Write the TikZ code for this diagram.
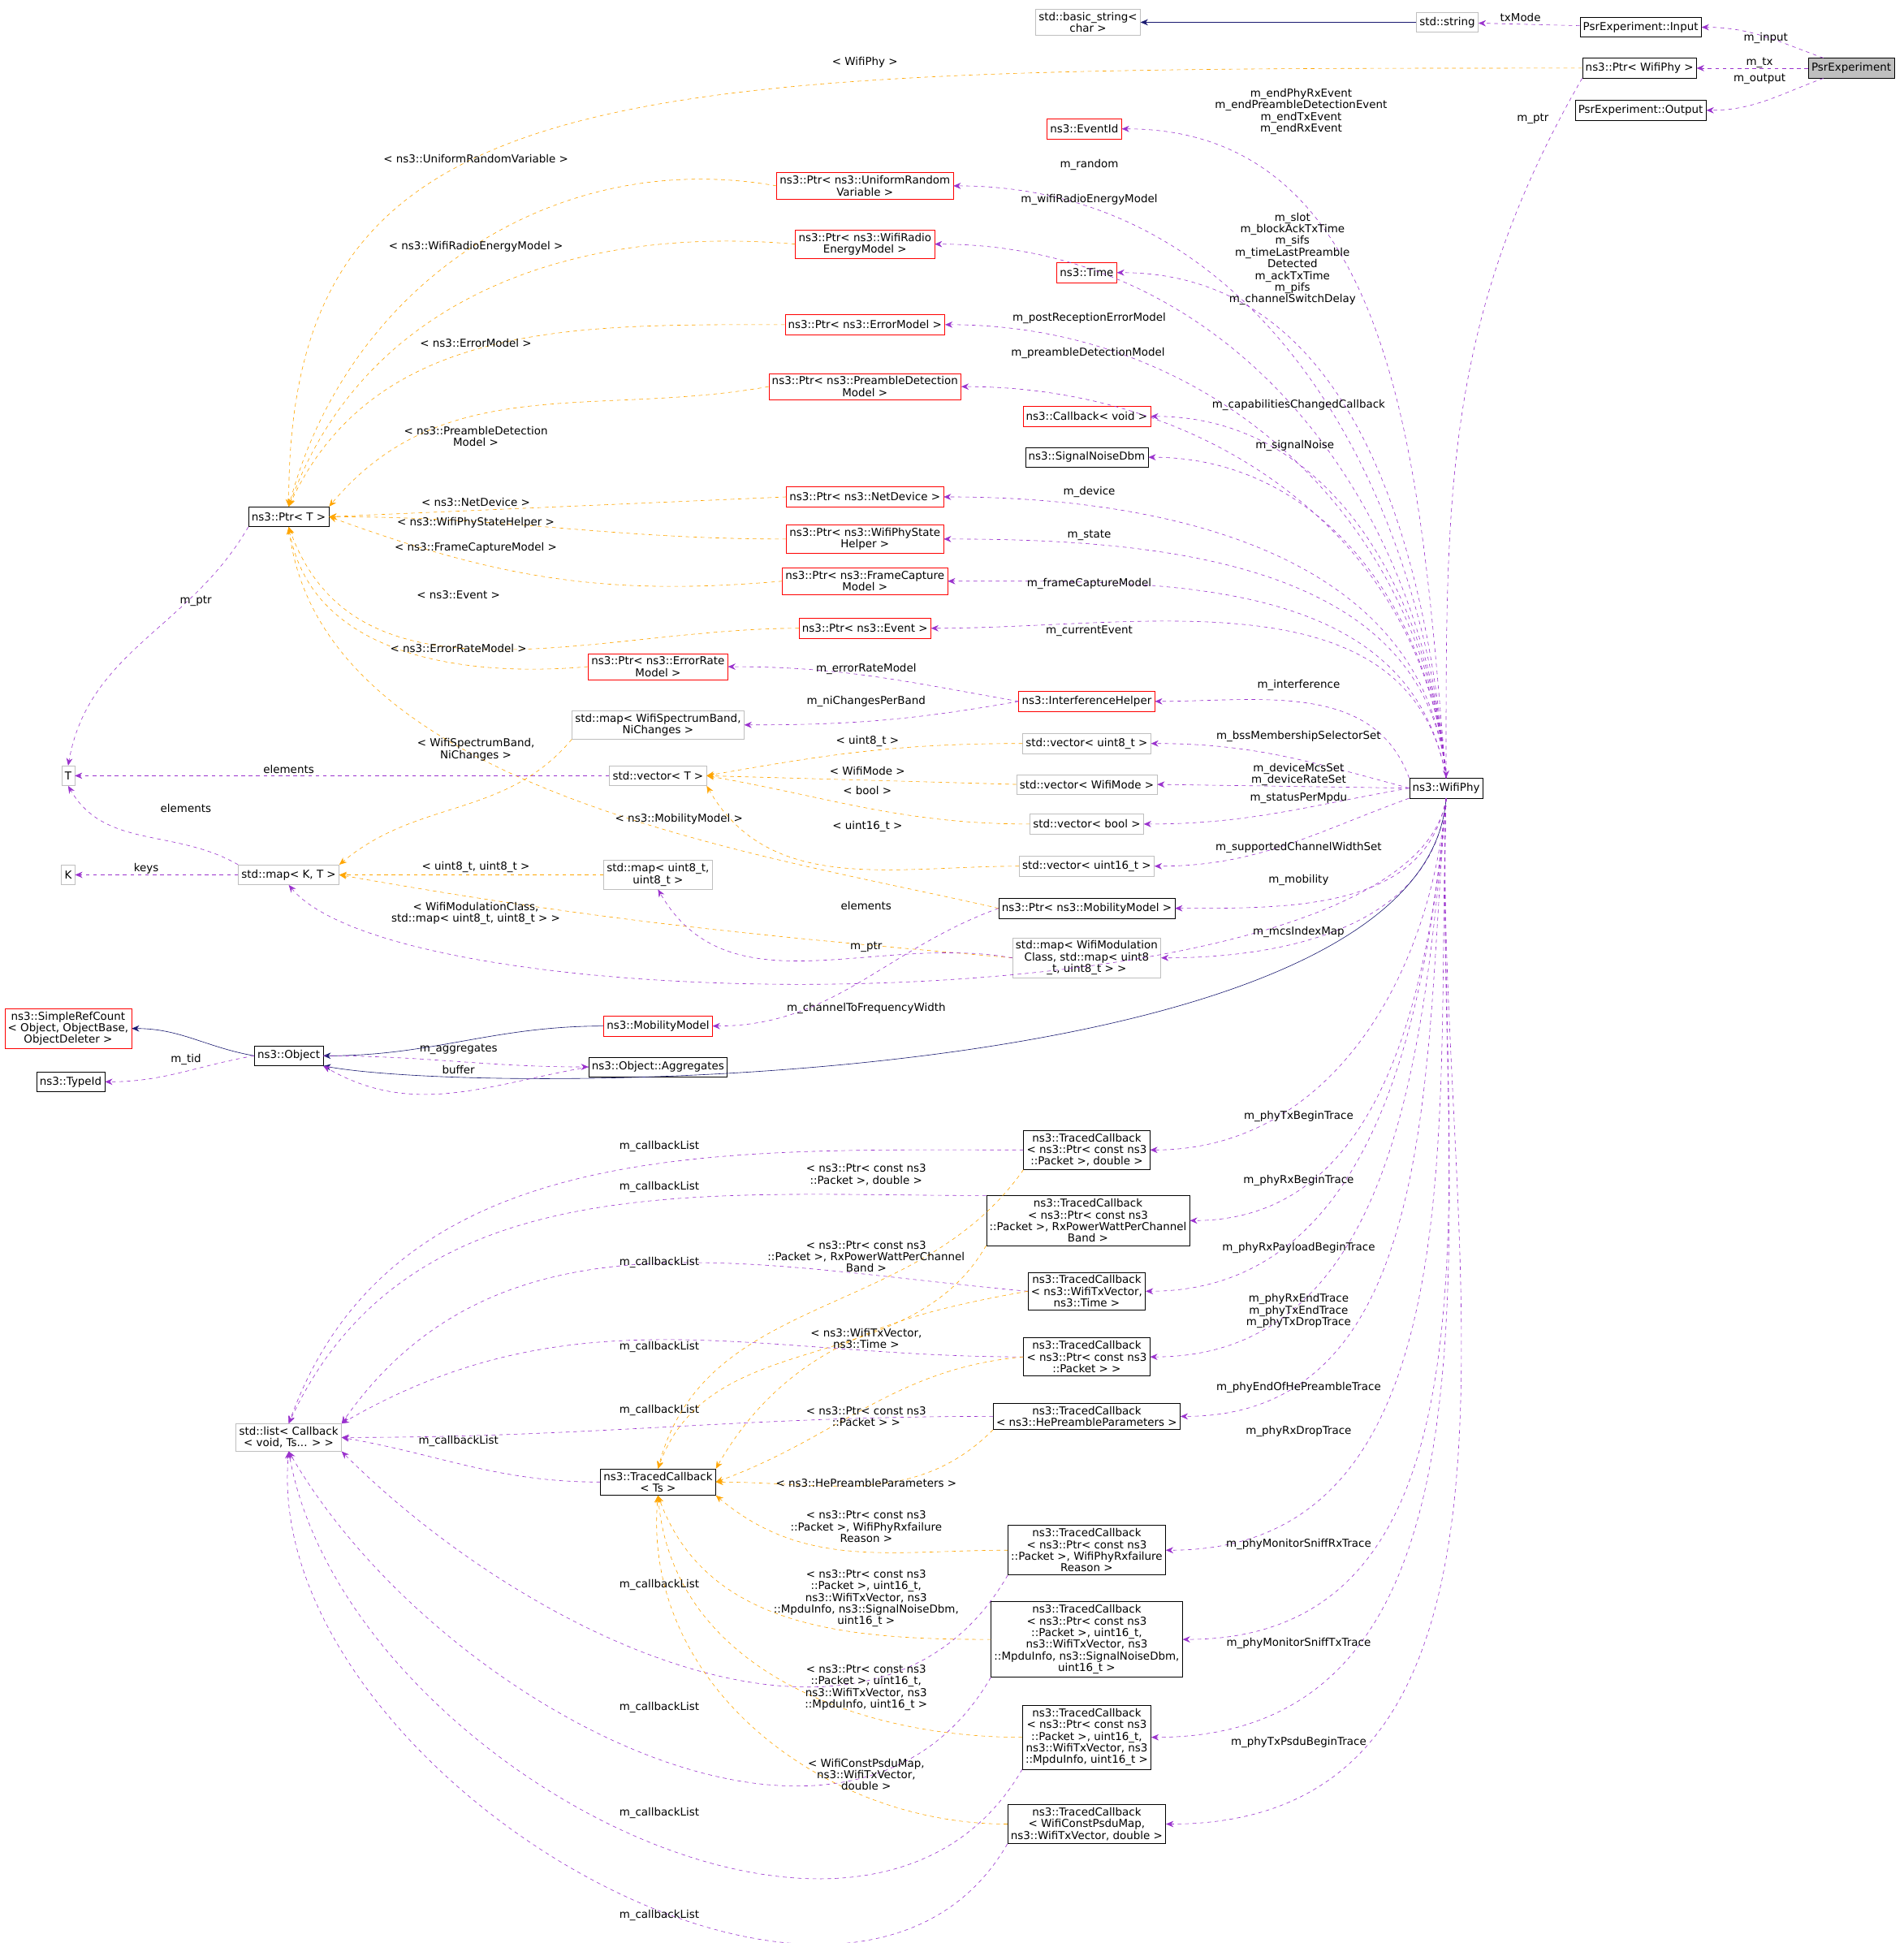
\documentclass[tikz,border=0pt]{standalone}
\usepackage{fontspec}
\setmainfont{DejaVu Sans}
\usetikzlibrary{positioning,arrows.meta}
\definecolor{memb}{HTML}{9A32CD}
\definecolor{tmpl}{HTML}{FFA500}
\definecolor{inh}{HTML}{191970}
\definecolor{grayb}{HTML}{BFBFBF}
\tikzset{
  cls/.style={draw=black,rectangle,inner sep=2.5pt,minimum height=16pt,align=center,font=\fontsize{8.8}{9.4}\selectfont},
  redcls/.style={cls,draw=red},
  graycls/.style={cls,draw=grayb},
  lbl/.style={align=center,inner sep=0pt,font=\fontsize{8.8}{9.4}\selectfont},
  member/.style={draw=memb,dashed,-{Stealth[length=6pt,width=5pt]}},
  templ/.style={draw=tmpl,dashed,-{Stealth[length=6pt,width=5pt]}},
  inherit/.style={draw=inh,-{Stealth[length=6pt,width=5pt]}}
}
\newcommand{\lbl}[3]{\node[lbl] at (#1,#2) {#3};}
\begin{document}
\begin{tikzpicture}[x=1pt,y=-1pt]
\useasboundingbox (0,0) rectangle (1536,1568);
% classes
\node[cls,fill=grayb] (psr) at (1494,55) {PsrExperiment};
\node[cls] (input) at (1324,22) {PsrExperiment::Input};
\node[cls] (ptrphy) at (1323,55) {ns3::Ptr< WifiPhy >};
\node[cls] (output) at (1324,89) {PsrExperiment::Output};
\node[graycls] (string) at (1168,18) {std::string};
\node[graycls] (bstring) at (878,18) {std::basic\_string<\\char >};
\node[cls] (phy) at (1167,636) {ns3::WifiPhy};
\node[redcls] (eventid) at (875,104) {ns3::EventId};
\node[redcls] (uniform) at (698,150) {ns3::Ptr< ns3::UniformRandom\\Variable >};
\node[redcls] (energy) at (698,197) {ns3::Ptr< ns3::WifiRadio\\EnergyModel >};
\node[redcls] (time) at (877,220) {ns3::Time};
\node[redcls] (errmodel) at (698,262) {ns3::Ptr< ns3::ErrorModel >};
\node[redcls] (preamble) at (698,312) {ns3::Ptr< ns3::PreambleDetection\\Model >};
\node[redcls] (cbvoid) at (877,336) {ns3::Callback< void >};
\node[cls] (snr) at (877,369) {ns3::SignalNoiseDbm};
\node[redcls] (netdev) at (698,401) {ns3::Ptr< ns3::NetDevice >};
\node[redcls] (state) at (698,435) {ns3::Ptr< ns3::WifiPhyState\\Helper >};
\node[redcls] (capture) at (698,469) {ns3::Ptr< ns3::FrameCapture\\Model >};
\node[redcls] (event) at (698,507) {ns3::Ptr< ns3::Event >};
\node[redcls] (errrate) at (531,538) {ns3::Ptr< ns3::ErrorRate\\Model >};
\node[redcls] (interf) at (877,566) {ns3::InterferenceHelper};
\node[graycls] (mapband) at (531,585) {std::map< WifiSpectrumBand,\\NiChanges >};
\node[graycls] (vecu8) at (877,600) {std::vector< uint8\_t >};
\node[graycls] (vect) at (531,626) {std::vector< T >};
\node[graycls] (vecmode) at (877,633) {std::vector< WifiMode >};
\node[graycls] (vecbool) at (877,665) {std::vector< bool >};
\node[graycls] (vecu16) at (877,699) {std::vector< uint16\_t >};
\node[graycls] (mapu8) at (531,706) {std::map< uint8\_t,\\uint8\_t >};
\node[cls] (ptrmob) at (877,733) {ns3::Ptr< ns3::MobilityModel >};
\node[graycls] (mapmod) at (877,773) {std::map< WifiModulation\\Class, std::map< uint8\\\_t, uint8\_t > >};
\node[redcls] (mob) at (531,828) {ns3::MobilityModel};
\node[cls] (aggr) at (531,861) {ns3::Object::Aggregates};
\node[cls] (ptrt) at (233,417) {ns3::Ptr< T >};
\node[graycls] (t) at (55,626) {T};
\node[graycls] (k) at (55,706) {K};
\node[graycls] (mapkt) at (233,706) {std::map< K, T >};
\node[redcls] (refcount) at (55,830) {ns3::SimpleRefCount\\< Object, ObjectBase,\\ObjectDeleter >};
\node[cls] (object) at (233,852) {ns3::Object};
\node[cls] (typeid) at (57,873) {ns3::TypeId};
\node[cls] (tcpd) at (877,928) {ns3::TracedCallback\\< ns3::Ptr< const ns3\\::Packet >, double >};
\node[cls] (tcpw) at (878,985) {ns3::TracedCallback\\< ns3::Ptr< const ns3\\::Packet >, RxPowerWattPerChannel\\Band >};
\node[cls] (tcvt) at (877,1042) {ns3::TracedCallback\\< ns3::WifiTxVector,\\ns3::Time >};
\node[cls] (tcp) at (877,1095) {ns3::TracedCallback\\< ns3::Ptr< const ns3\\::Packet > >};
\node[cls] (tche) at (877,1143) {ns3::TracedCallback\\< ns3::HePreambleParameters >};
\node[graycls] (list) at (233,1160) {std::list< Callback\\< void, Ts... > >};
\node[cls] (tcts) at (531,1196) {ns3::TracedCallback\\< Ts >};
\node[cls] (tcfail) at (877,1251) {ns3::TracedCallback\\< ns3::Ptr< const ns3\\::Packet >, WifiPhyRxfailure\\Reason >};
\node[cls] (tcsnr) at (877,1323) {ns3::TracedCallback\\< ns3::Ptr< const ns3\\::Packet >, uint16\_t,\\ns3::WifiTxVector, ns3\\::MpduInfo, ns3::SignalNoiseDbm,\\uint16\_t >};
\node[cls] (tcmpdu) at (877,1402) {ns3::TracedCallback\\< ns3::Ptr< const ns3\\::Packet >, uint16\_t,\\ns3::WifiTxVector, ns3\\::MpduInfo, uint16\_t >};
\node[cls] (tcpsdu) at (877,1472) {ns3::TracedCallback\\< WifiConstPsduMap,\\ns3::WifiTxVector, double >};

% top
\draw[member] (psr) to[out=160,in=0] (input);
\draw[member] (psr) -- (ptrphy);
\draw[member] (psr) to[out=200,in=0] (output);
\draw[member] (input) -- (string);
\draw[inherit] (string) -- (bstring);
\draw[member] (ptrphy.south west) to[out=240,in=90] (phy.north);
\draw[templ] (ptrphy.west) .. controls (500,55) and (233,55) .. (ptrt.north);
\lbl{1425}{31}{m\_input}
\lbl{1420}{51}{m\_tx}
\lbl{1420}{64}{m\_output}
\lbl{1227}{14}{txMode}
\lbl{1237}{96}{m\_ptr}
\lbl{698}{50}{< WifiPhy >}

% members of WifiPhy above
\draw[member] (phy.north) to[out=95,in=0] (eventid.east);
\draw[member] (phy.north) to[out=95,in=0] (uniform.east);
\draw[member] (phy.north) to[out=95,in=0] (energy.east);
\draw[member] (phy.north) to[out=95,in=0] (time.east);
\draw[member] (phy.north) to[out=95,in=0] (errmodel.east);
\draw[member] (phy.north) to[out=95,in=0] (preamble.east);
\draw[member] (phy.north) to[out=95,in=0] (cbvoid.east);
\draw[member] (phy.north) to[out=95,in=0] (snr.east);
\draw[member] (phy.north) to[out=95,in=0] (netdev.east);
\draw[member] (phy.north) to[out=95,in=0] (state.east);
\draw[member] (phy.north) to[out=100,in=0] (capture.east);
\draw[member] (phy.north) to[out=100,in=0] (event.east);
\draw[member] (phy.north west) to[out=110,in=0] (interf.east);
\draw[member] (phy.west) to[out=165,in=0] (vecu8.east);
\draw[member] (phy.west) -- (vecmode.east);
\draw[member] (phy.west) to[out=190,in=0] (vecbool.east);
\draw[member] (phy.south west) to[out=200,in=0] (vecu16.east);
\draw[member] (phy.south) to[out=-100,in=0] (ptrmob.east);
\draw[member] (phy.south) to[out=-95,in=0] (mapmod.east);
\draw[member] (phy.south) .. controls (1140,830) and (330,830) .. (mapkt.south);
\lbl{1050}{90}{m\_endPhyRxEvent\\m\_endPreambleDetectionEvent\\m\_endTxEvent\\m\_endRxEvent}
\lbl{879}{133}{m\_random}
\lbl{879}{161}{m\_wifiRadioEnergyModel}
\lbl{1043}{209}{m\_slot\\m\_blockAckTxTime\\m\_sifs\\m\_timeLastPreamble\\Detected\\m\_ackTxTime\\m\_pifs\\m\_channelSwitchDelay}
\lbl{879}{257}{m\_postReceptionErrorModel}
\lbl{878}{285}{m\_preambleDetectionModel}
\lbl{1048}{327}{m\_capabilitiesChangedCallback}
\lbl{1045}{360}{m\_signalNoise}
\lbl{879}{397}{m\_device}
\lbl{879}{432}{m\_state}
\lbl{879}{471}{m\_frameCaptureModel}
\lbl{879}{509}{m\_currentEvent}
\lbl{1048}{553}{m\_interference}
\lbl{1048}{594}{m\_bssMembershipSelectorSet}
\lbl{1048}{625}{m\_deviceMcsSet\\m\_deviceRateSet}
\lbl{1048}{644}{m\_statusPerMpdu}
\lbl{1048}{684}{m\_supportedChannelWidthSet}
\lbl{1048}{710}{m\_mobility}
\lbl{1048}{752}{m\_mcsIndexMap}
\lbl{699}{814}{m\_channelToFrequencyWidth}

% templates of Ptr< T >
\draw[templ] (uniform.west) to[out=170,in=75] (ptrt.north);
\draw[templ] (energy.west) to[out=175,in=70] (ptrt.north);
\draw[templ] (errmodel.west) to[out=180,in=65] (ptrt.north);
\draw[templ] (preamble.west) to[out=190,in=50] (ptrt.north east);
\draw[templ] (netdev.west) -- (ptrt.east);
\draw[templ] (state.west) to[out=180,in=0] (ptrt.east);
\draw[templ] (capture.west) to[out=185,in=-20] (ptrt.east);
\draw[templ] (event.west) to[out=180,in=-70] (ptrt.south);
\draw[templ] (errrate.west) to[out=185,in=-80] (ptrt.south);
\draw[templ] (ptrmob.west) .. controls (620,690) and (260,640) .. (ptrt.south);
\lbl{384}{128}{< ns3::UniformRandomVariable >}
\lbl{384}{199}{< ns3::WifiRadioEnergyModel >}
\lbl{384}{277}{< ns3::ErrorModel >}
\lbl{384}{352}{< ns3::PreambleDetection\\Model >}
\lbl{384}{405}{< ns3::NetDevice >}
\lbl{384}{422}{< ns3::WifiPhyStateHelper >}
\lbl{384}{442}{< ns3::FrameCaptureModel >}
\lbl{370}{480}{< ns3::Event >}
\lbl{370}{523}{< ns3::ErrorRateModel >}
\lbl{548}{661}{< ns3::MobilityModel >}

% containers
\draw[member] (ptrt.south west) to[out=240,in=80] (t.north);
\draw[member] (vect) -- (t);
\draw[member] (mapkt.north west) to[out=150,in=-60] (t.south);
\draw[member] (mapkt) -- (k);
\draw[templ] (vecu8.west) to[out=180,in=10] (vect.east);
\draw[templ] (vecmode.west) -- (vect.east);
\draw[templ] (vecbool.west) to[out=180,in=-10] (vect.east);
\draw[templ] (vecu16.west) to[out=180,in=-60] (vect.south east);
\draw[templ] (mapband.south west) to[out=230,in=40] (mapkt.north east);
\draw[templ] (mapu8.west) -- (mapkt.east);
\draw[templ] (mapmod.west) to[out=175,in=-10] (mapkt.east);
\draw[member] (interf.west) to[out=170,in=0] (errrate.east);
\draw[member] (interf.west) to[out=190,in=0] (mapband.east);
\draw[member] (mapmod.west) to[out=170,in=-60] (mapu8.south);
\draw[member] (ptrmob.west) to[out=200,in=0] (mob.east);
\lbl{158}{485}{m\_ptr}
\lbl{233}{621}{elements}
\lbl{150}{652}{elements}
\lbl{118}{701}{keys}
\lbl{700}{598}{< uint8\_t >}
\lbl{700}{622}{< WifiMode >}
\lbl{700}{638}{< bool >}
\lbl{700}{667}{< uint16\_t >}
\lbl{384}{605}{< WifiSpectrumBand,\\NiChanges >}
\lbl{384}{700}{< uint8\_t, uint8\_t >}
\lbl{384}{737}{< WifiModulationClass,\\std::map< uint8\_t, uint8\_t > >}
\lbl{699}{540}{m\_errorRateModel}
\lbl{699}{566}{m\_niChangesPerBand}
\lbl{699}{731}{elements}
\lbl{699}{764}{m\_ptr}

% object
\draw[inherit] (mob.west) to[out=180,in=0] (object.east);
\draw[inherit] (phy.south) .. controls (1150,880) and (400,885) .. (object.south east);
\draw[inherit] (object.west) to[out=170,in=0] (refcount.east);
\draw[member] (object.west) to[out=190,in=0] (typeid.east);
\draw[member] (object.east) to[out=0,in=180] (aggr.west);
\draw[member] (aggr.west) to[out=190,in=-30] (object.south east);
\lbl{150}{855}{m\_tid}
\lbl{370}{847}{m\_aggregates}
\lbl{370}{863}{buffer}

% traced callbacks
\draw[member] (phy.south) to[out=-95,in=0] (tcpd.east);
\draw[member] (phy.south) to[out=-95,in=0] (tcpw.east);
\draw[member] (phy.south) to[out=-95,in=0] (tcvt.east);
\draw[member] (phy.south) to[out=-95,in=0] (tcp.east);
\draw[member] (phy.south) to[out=-95,in=0] (tche.east);
\draw[member] (phy.south) to[out=-92,in=0] (tcfail.east);
\draw[member] (phy.south) to[out=-92,in=0] (tcsnr.east);
\draw[member] (phy.south) to[out=-92,in=0] (tcmpdu.east);
\draw[member] (phy.south) to[out=-92,in=0] (tcpsdu.east);
\lbl{1048}{901}{m\_phyTxBeginTrace}
\lbl{1048}{953}{m\_phyRxBeginTrace}
\lbl{1048}{1007}{m\_phyRxPayloadBeginTrace}
\lbl{1048}{1058}{m\_phyRxEndTrace\\m\_phyTxEndTrace\\m\_phyTxDropTrace}
\lbl{1048}{1120}{m\_phyEndOfHePreambleTrace}
\lbl{1048}{1155}{m\_phyRxDropTrace}
\lbl{1048}{1246}{m\_phyMonitorSniffRxTrace}
\lbl{1048}{1326}{m\_phyMonitorSniffTxTrace}
\lbl{1048}{1406}{m\_phyTxPsduBeginTrace}

\draw[member] (tcpd.west) to[out=180,in=70] (list.north);
\draw[member] (tcpw.north west) to[out=180,in=65] (list.north);
\draw[member] (tcvt.west) to[out=175,in=55] (list.north east);
\draw[member] (tcp.west) to[out=180,in=30] (list.north east);
\draw[member] (tche.west) to[out=180,in=0] (list.east);
\draw[member] (tcts.west) to[out=180,in=-10] (list.east);
\draw[member] (tcfail.south west) to[out=240,in=-45] (list.south east);
\draw[member] (tcsnr.south west) to[out=240,in=-60] (list.south);
\draw[member] (tcmpdu.south west) to[out=240,in=-80] (list.south);
\draw[member] (tcpsdu.south west) to[out=240,in=-95] (list.south);
\lbl{532}{925}{m\_callbackList}
\lbl{532}{958}{m\_callbackList}
\lbl{532}{1019}{m\_callbackList}
\lbl{532}{1087}{m\_callbackList}
\lbl{532}{1138}{m\_callbackList}
\lbl{370}{1163}{m\_callbackList}
\lbl{532}{1279}{m\_callbackList}
\lbl{532}{1378}{m\_callbackList}
\lbl{532}{1463}{m\_callbackList}
\lbl{532}{1546}{m\_callbackList}

\draw[templ] (tcpd.south west) to[out=235,in=75] (tcts.north);
\draw[templ] (tcpw.south west) to[out=240,in=70] (tcts.north);
\draw[templ] (tcvt.west) to[out=190,in=60] (tcts.north east);
\draw[templ] (tcp.west) to[out=185,in=20] (tcts.east);
\draw[templ] (tche.south west) to[out=225,in=0] (tcts.east);
\draw[templ] (tcfail.west) to[out=180,in=-40] (tcts.south east);
\draw[templ] (tcsnr.west) to[out=180,in=-70] (tcts.south);
\draw[templ] (tcmpdu.west) to[out=180,in=-85] (tcts.south);
\draw[templ] (tcpsdu.west) to[out=180,in=-95] (tcts.south);
\lbl{699}{948}{< ns3::Ptr< const ns3\\::Packet >, double >}
\lbl{699}{1014}{< ns3::Ptr< const ns3\\::Packet >, RxPowerWattPerChannel\\Band >}
\lbl{699}{1080}{< ns3::WifiTxVector,\\ns3::Time >}
\lbl{699}{1143}{< ns3::Ptr< const ns3\\::Packet > >}
\lbl{699}{1197}{< ns3::HePreambleParameters >}
\lbl{699}{1232}{< ns3::Ptr< const ns3\\::Packet >, WifiPhyRxfailure\\Reason >}
\lbl{699}{1290}{< ns3::Ptr< const ns3\\::Packet >, uint16\_t,\\ns3::WifiTxVector, ns3\\::MpduInfo, ns3::SignalNoiseDbm,\\uint16\_t >}
\lbl{699}{1362}{< ns3::Ptr< const ns3\\::Packet >, uint16\_t,\\ns3::WifiTxVector, ns3\\::MpduInfo, uint16\_t >}
\lbl{699}{1432}{< WifiConstPsduMap,\\ns3::WifiTxVector,\\double >}
\end{tikzpicture}
\end{document}
